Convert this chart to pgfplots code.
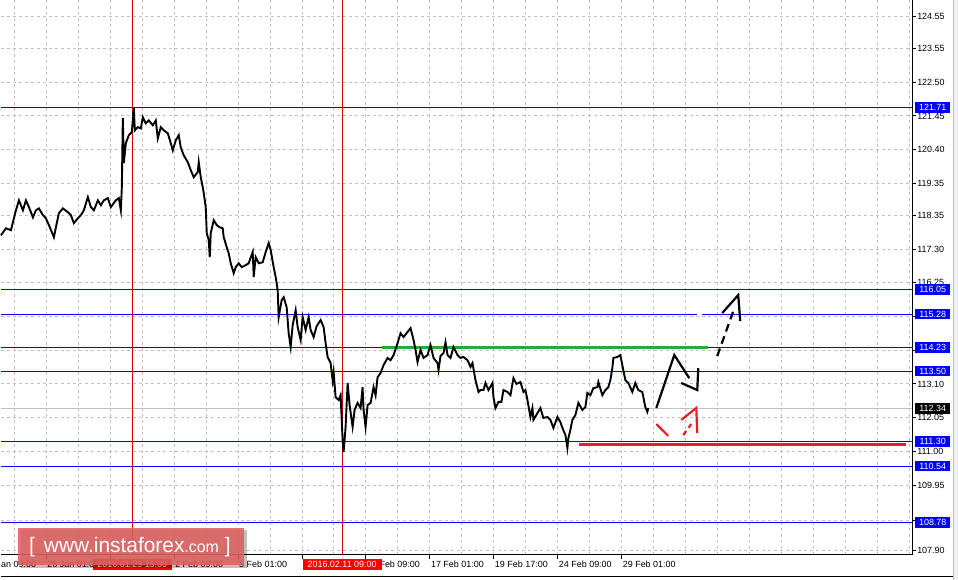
\documentclass[border=0pt]{standalone}
\usepackage{pgfplots}
\pgfplotsset{compat=1.18}
\usepackage{fontspec}
\setmainfont{Liberation Sans}
\definecolor{lvl}{RGB}{0,0,255}
\definecolor{gridc}{RGB}{192,192,192}
\definecolor{grn}{RGB}{34,170,68}
\definecolor{rd}{RGB}{235,30,40}
\definecolor{vred}{RGB}{210,0,0}
\definecolor{logo}{RGB}{222,96,96}
\begin{document}
\begin{tikzpicture}
\begin{axis}[
  set layers,
  scale only axis,
  width=912bp, height=555bp,
  xmin=0, xmax=912, ymin=107.774, ymax=125.048,
  clip=false,
  axis x line*=bottom, axis y line*=right,
  axis line style={black, line width=0.9bp},
  tick align=outside,
  major tick length=4bp,
  minor tick length=0pt,
  tick style={black, line width=0.9bp},
  xtick={45.3,109.3,173.3,237.3,301.3,365.3,429.3,493.3,557.3,621.3},
  xticklabels={26 Jan 01:00,,2 Feb 09:00,5 Feb 01:00,,12 Feb 09:00,17 Feb 01:00,19 Feb 17:00,24 Feb 09:00,29 Feb 01:00},
  minor xtick={13.3,77.3,141.3,205.3,269.3,333.3,397.3,461.3,525.3,589.3,653.3,685.3,717.3,749.3,781.3,813.3,845.3,877.3,909.3},
  ytick={124.55,123.55,122.50,121.45,120.40,119.35,118.35,117.30,116.25,115.20,114.15,113.10,112.05,111.00,109.95,108.85,107.90},
  yticklabels={124.55,123.55,122.50,121.45,120.40,119.35,118.35,117.30,116.25,115.20,,113.10,112.05,111.00,109.95,108.85,107.90},
  xmajorgrids, xminorgrids, ymajorgrids,
  major grid style={gridc, dash pattern=on 3bp off 3bp, line width=0.9bp},
  minor grid style={gridc, dash pattern=on 3bp off 3bp, line width=0.9bp},
  yticklabel style={anchor=west, inner sep=0pt, xshift=1bp, font=\fontsize{9}{10}\selectfont},
  xticklabel style={anchor=north west, inner sep=0pt, xshift=1bp, yshift=-2bp, font=\fontsize{9}{10}\selectfont},
]
% right panel strip and frame bits
\fill[gray!12] (axis cs:953,125.048) rectangle (axis cs:958,107.027);
\draw[gray!50, line width=0.8bp] (axis cs:953,125.048) -- (axis cs:953,107.027);
\draw[black, line width=1bp] (axis cs:0,107.089) -- (axis cs:953,107.089);
\path (axis cs:0,125.048) rectangle (axis cs:958,107.027);

% price line (gray)
\addplot[gridc, line width=0.9bp] coordinates {(0,112.34)(912,112.34)};
% blue levels
\addplot[lvl, line width=0.9bp] coordinates {(0,121.71)(912,121.71)};
\addplot[lvl, line width=0.9bp] coordinates {(0,116.05)(912,116.05)};
\addplot[lvl, line width=0.9bp] coordinates {(0,115.28)(697,115.28)};
\addplot[lvl, line width=0.9bp] coordinates {(702,115.28)(912,115.28)};
\addplot[lvl, line width=0.9bp] coordinates {(0,114.23)(912,114.23)};
\addplot[lvl, line width=0.9bp] coordinates {(0,113.50)(912,113.50)};
\addplot[lvl, line width=0.9bp] coordinates {(0,111.30)(912,111.30)};
\addplot[lvl, line width=0.9bp] coordinates {(0,110.54)(912,110.54)};
\addplot[lvl, line width=0.9bp] coordinates {(0,108.78)(912,108.78)};
% vertical red lines
\addplot[vred, line width=0.9bp] coordinates {(131.5,107.774)(131.5,125.048)};
\addplot[vred, line width=0.9bp] coordinates {(341.5,107.774)(341.5,125.048)};
% green and red levels
\addplot[grn, line width=3bp] coordinates {(381,114.23)(708,114.23)};
\addplot[rd, line width=3bp] coordinates {(579,111.20)(906,111.20)};

% price series
\addplot[black, line width=1.9bp, line join=miter] coordinates {
(0,117.73)(5,117.95)(10,117.89)(15,118.51)(18,118.82)(22,118.51)(25,118.82)(28,118.61)(32,118.29)(35,118.51)
(38,118.57)(42,118.36)(45,118.26)(48,118.05)(53,117.67)(55,117.98)(58,118.42)(62,118.57)(67,118.45)(70,118.36)
(73,118.11)(77,118.26)(80,118.36)(83,118.51)(87,118.92)(90,118.61)(93,118.51)(97,118.82)(100,118.67)(103,118.82)
(107,118.89)(110,118.61)(115,118.82)(118,118.89)(120,118.51)(121,119.23)(122,121.38)(123,119.98)(125,120.60)(128,120.85)
(131,120.94)(133,121.69)(134,121.00)(137,121.10)(140,121.06)(142,121.41)(145,121.22)(148,121.31)(152,121.16)(155,121.31)
(157,120.75)(160,121.10)(163,121.00)(167,120.91)(170,120.60)(172,120.38)(175,120.69)(178,120.85)(180,120.47)(183,120.22)
(187,120.01)(190,119.76)(193,119.54)(197,119.70)(198,120.01)(200,119.54)(202,119.23)(203,119.04)(205,118.61)(206,117.80)
(208,117.58)(209,117.05)(210,117.80)(213,118.20)(216,118.05)(219,117.98)(222,117.95)(223,117.67)(226,117.36)(228,117.17)
(230,116.86)(233,116.55)(235,116.74)(238,116.86)(241,116.74)(245,116.80)(248,116.86)(252,117.21)(253,116.43)(255,117.05)
(258,116.86)(262,116.89)(265,117.21)(268,117.49)(270,117.27)(273,116.74)(275,116.43)(277,116.02)(278,115.18)(281,115.71)
(283,115.80)(286,115.49)(288,114.68)(290,114.25)(292,114.93)(295,115.40)(297,114.87)(300,114.47)(302,115.18)(305,114.78)
(308,115.18)(310,114.78)(313,114.56)(316,114.90)(320,115.09)(323,114.87)(325,114.37)(327,113.94)(330,113.75)(332,113.22)
(333,113.47)(335,112.69)(338,112.60)(340,112.75)(342,111.35)(343,110.98)(345,111.76)(347,113.13)(349,112.44)(352,111.76)
(354,112.29)(357,112.51)(360,112.35)(362,113.00)(363,112.29)(365,111.76)(367,112.44)(370,112.51)(373,113.00)(375,112.75)
(377,113.31)(380,113.44)(383,113.69)(387,113.91)(390,113.84)(393,114.00)(397,114.37)(400,114.68)(403,114.56)(407,114.72)
(410,114.84)(413,114.47)(415,114.16)(417,113.78)(420,114.16)(423,113.91)(427,114.00)(430,114.31)(433,113.91)(437,113.75)
(438,113.53)(440,113.97)(443,114.06)(445,114.40)(447,114.00)(450,113.91)(453,114.25)(457,114.00)(460,113.91)(463,113.94)
(467,113.84)(470,113.63)(472,113.75)(475,113.22)(478,112.85)(480,112.91)(483,112.91)(485,113.13)(488,112.91)(492,113.13)
(493,112.69)(495,112.35)(498,112.54)(501,112.54)(503,112.91)(507,112.85)(510,112.75)(513,113.28)(516,113.10)(520,113.16)
(523,112.85)(525,112.91)(527,112.60)(530,112.07)(532,112.35)(533,111.98)(537,112.19)(540,112.35)(543,112.04)(547,112.07)
(550,111.98)(553,111.73)(557,112.07)(560,111.91)(562,111.73)(565,111.51)(567,111.10)(568,111.42)(570,111.67)(572,111.98)
(575,112.13)(578,112.51)(582,112.29)(585,112.38)(587,112.82)(590,112.75)(593,112.97)(597,113.00)(598,113.16)(602,112.75)
(605,112.91)(608,113.00)(610,113.22)(612,113.59)(613,113.91)(617,113.94)(620,114.00)(623,113.53)(625,113.22)(628,113.13)
(632,112.85)(635,113.13)(638,112.91)(642,112.85)(645,112.38)(647,112.23)(648,112.35)
};

% hand-drawn forecast arrows
\addplot[black, line width=2.2bp] coordinates {(656,112.35)(674,114.00)(689,113.28)};
\addplot[black, line width=2.2bp] coordinates {(681,113.13)(697,112.91)(698,113.59)};
\addplot[black, line width=2.2bp, dash pattern=on 8bp off 5bp] coordinates {(717,113.97)(734,115.45)};
\addplot[black, line width=2.2bp] coordinates {(722,115.31)(738,115.87)(740,115.06)};
\addplot[rd, line width=2.2bp] coordinates {(656,111.85)(668,111.48)};
\addplot[rd, line width=2.2bp, dash pattern=on 5bp off 4bp] coordinates {(683,111.51)(691,111.85)};
\addplot[rd, line width=2.2bp] coordinates {(681,111.98)(696,112.35)(697,111.57)};

% right-side level labels
\foreach \v in {121.71,116.05,115.28,114.23,113.50,111.30,110.54,108.78}{
  \edef\temp{\noexpand\node[fill=lvl, text=white, anchor=west, inner sep=0pt, minimum width=35bp, minimum height=10.5bp, font=\noexpand\fontsize{9}{10}\noexpand\selectfont] at (axis cs:915,\v) {\v};}
  \temp
}
\node[fill=black, text=white, anchor=west, inner sep=0pt, minimum width=35bp, minimum height=10.5bp, font=\fontsize{9}{10}\selectfont] at (axis cs:915,112.34) {112.34};

% red date labels
\node[fill=red, text=white, anchor=north, inner sep=0pt, minimum width=79bp, minimum height=11bp, font=\fontsize{9}{10}\selectfont] at (axis cs:131.5,107.65) {2016.01.29 15:00};
\node[fill=red, text=white, anchor=north, inner sep=0pt, minimum width=79bp, minimum height=11bp, font=\fontsize{9}{10}\selectfont] at (axis cs:341.5,107.65) {2016.02.11 09:00};
\node[anchor=north west, inner sep=0pt, font=\fontsize{9}{10}\selectfont] at (axis cs:0,107.59) {an 09:00};

% logo
\fill[black, opacity=0.25] (axis cs:20,108.54) rectangle (axis cs:246,107.37);
\fill[logo, opacity=0.88] (axis cs:17,108.616) rectangle (axis cs:243,107.464);
\node[anchor=base west, inner sep=0pt, text=white] at (axis cs:28,107.836)
  {{\fontsize{21}{21}\selectfont[\hspace{9bp}www.instaforex}{\fontsize{16}{16}\selectfont.com}{\fontsize{21}{21}\selectfont\hspace{6bp}]}};
\end{axis}
\end{tikzpicture}
\end{document}
